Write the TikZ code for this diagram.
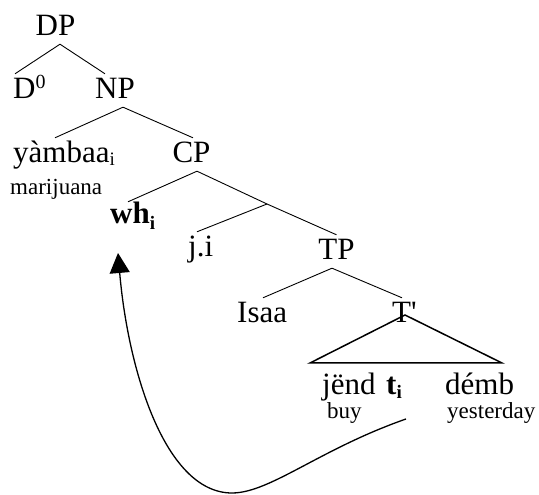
\documentclass[tikz,border=0pt]{standalone}
\usepackage{fontspec}
\setmainfont{Liberation Serif}
\usetikzlibrary{arrows.meta}
\newcommand\mysub[2][-4pt]{\raisebox{#1}{\fontsize{19}{19}\selectfont #2}}
\tikzset{
  lab/.style={inner sep=0pt, text height=25pt, text depth=8pt, font=\fontsize{31}{36}\selectfont},
  boldlab/.style={lab, font=\fontsize{31}{36}\selectfont\bfseries},
  gloss/.style={inner sep=0pt, font=\fontsize{23}{27}\selectfont},
  branch/.style={line width=0.9pt},
  roof/.style={line width=1.5pt, line join=miter},
  move/.style={line width=1.3pt, -{Triangle[length=20pt,width=20pt]}}
}
\begin{document}
\begin{tikzpicture}[x=1pt,y=1pt]
\useasboundingbox (0,0) rectangle (539,495);
% nodes
\node[lab, anchor=base] (DP) at (55.5,459) {DP};
\node[lab, anchor=base west] (D0) at (13,396) {D\raisebox{10pt}{\fontsize{20}{20}\selectfont 0}};
\node[lab, anchor=base] (NP) at (115,396) {NP};
\node[lab, anchor=base west] (yam) at (13,332) {yàmbaa\mysub[-3pt]{i}};
\node[gloss, anchor=base west] (mar) at (10,300) {marijuana};
\node[lab, anchor=base] (CP) at (191.5,332) {CP};
\node[boldlab, anchor=base west] (wh) at (110,271) {wh\mysub[-6pt]{i}};
\coordinate (Cbar) at (267,291);
\node[lab, anchor=base west] (ji) at (188,238) {j.i};
\node[lab, anchor=base] (TP) at (336.5,235) {TP};
\node[lab, anchor=base west] (Isaa) at (237,172) {Isaa};
\node[lab, anchor=base west] (Tbar) at (392,172) {T\textquotesingle};
\node[lab, anchor=base west] (jend) at (322,100) {jënd};
\node[boldlab, anchor=base west] (ti) at (386,100) {t\mysub{i}};
\node[lab, anchor=base west] (demb) at (445,100) {démb};
\node[gloss, anchor=base west] (buy) at (327,76) {buy};
\node[gloss, anchor=base west] (yest) at (447,76) {yesterday};
\coordinate (triL) at (310,132);
\coordinate (triR) at (502,132);
\coordinate (arrBot) at (232,2);
% branches
\draw[branch] ([xshift=4.5pt]DP.south) -- ([xshift=2pt]D0.north west);
\draw[branch] ([xshift=4.5pt]DP.south) -- ([xshift=-10pt]NP.north);
\draw[branch] ([xshift=8pt]NP.south) -- ([xshift=42pt]yam.north west);
\draw[branch] ([xshift=8pt]NP.south) -- ([xshift=1.5pt]CP.north);
\draw[branch] ([xshift=5.5pt]CP.south) -- ([xshift=18pt,yshift=-3pt]wh.north west);
\draw[branch] ([xshift=5.5pt]CP.south) -- (Cbar);
\draw[branch] (Cbar) -- ([xshift=9pt]ji.north west);
\draw[branch] (Cbar) -- (TP.north);
\draw[branch] ([xshift=-4.5pt]TP.south) -- ([xshift=26pt]Isaa.north west);
\draw[branch] ([xshift=-4.5pt]TP.south) -- ([xshift=10pt]Tbar.north west);
% roof
\draw[roof] ([xshift=13pt,yshift=8pt]Tbar.base west) -- (triL) -- (triR) -- cycle;
% movement arrow
\draw[move] ([xshift=20pt,yshift=-24pt]ti.base west) .. controls (320,46) and (270,2) .. (arrBot)
  .. controls (165,2) and (128,125) .. ([xshift=8pt,yshift=-29pt]wh.base west);
\end{tikzpicture}
\end{document}
